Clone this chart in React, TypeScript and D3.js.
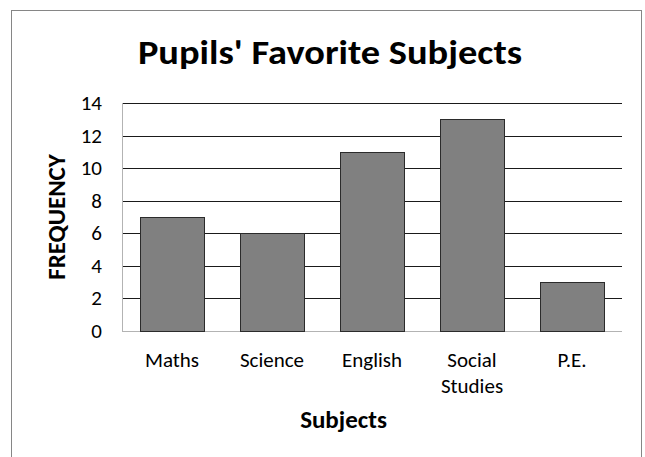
import React from "react";
import * as d3 from "d3";

const categories = ["Maths", "Science", "English", "Social Studies", "P.E."];
const categoryLines = [["Maths"], ["Science"], ["English"], ["Social", "Studies"], ["P.E."]];
const frequencies = [7, 6, 11, 13, 3];
const yTicks = [0, 2, 4, 6, 8, 10, 12, 14];
const titleText = "Pupils' Favorite Subjects";
const xTitle = "Subjects";
const yTitle = "FREQUENCY";

const W = 645;
const H = 457;
const plot = { left: 122, right: 622, top: 103, bottom: 331 };
const FONT = "Carlito, Calibri, Lato, 'Open Sans', sans-serif";

export default function App() {
  const x = d3
    .scaleBand<string>()
    .domain(categories)
    .range([plot.left, plot.right])
    .paddingInner(0.36)
    .paddingOuter(0.18);
  const y = d3.scaleLinear().domain([0, 14]).range([plot.bottom, plot.top]);
  const crisp = (v: number) => Math.round(v) + 0.5;

  return (
    <svg
      width={W}
      height={H}
      style={{ position: "absolute", left: 0, top: 0, background: "#fff" }}
      fontFamily={FONT}
    >
      <rect x={11.5} y={10.5} width={630} height={460} fill="#fff" stroke="#868686" strokeWidth={1} />
      <text
        transform="translate(330, 64) scale(1.13, 1)"
        textAnchor="middle"
        fontSize={34}
        fontWeight="bold"
        fill="#000"
      >
        {titleText}
      </text>
      {yTicks
        .filter((t) => t > 0)
        .map((t) => (
          <line
            key={"g" + t}
            x1={plot.left}
            x2={plot.right}
            y1={crisp(y(t))}
            y2={crisp(y(t))}
            stroke="#1a1a1a"
            strokeWidth={1}
          />
        ))}
      <line x1={crisp(plot.left)} x2={crisp(plot.left)} y1={plot.top} y2={plot.bottom} stroke="#b3b3b3" />
      <line x1={plot.left} x2={plot.right} y1={crisp(y(0))} y2={crisp(y(0))} stroke="#b3b3b3" />
      {categories.map((c, i) => (
        <rect
          key={c}
          x={Math.round(x(c)!) + 0.5}
          y={Math.round(y(frequencies[i])) + 0.5}
          width={Math.round(x.bandwidth())}
          height={Math.round(y(0)) - Math.round(y(frequencies[i]))}
          fill="#808080"
          stroke="#2b2b2b"
          strokeWidth={1}
        />
      ))}
      {yTicks.map((t) => (
        <text key={"t" + t} x={102} y={y(t)} dy="0.33em" textAnchor="end" fontSize={21} fill="#000">
          {t}
        </text>
      ))}
      {categories.map((c, i) => (
        <text key={"c" + c} x={x(c)! + x.bandwidth() / 2} y={367} textAnchor="middle" fontSize={21} fill="#000">
          {categoryLines[i].map((ln, j) => (
            <tspan key={j} x={x(c)! + x.bandwidth() / 2} dy={j === 0 ? 0 : 26}>
              {ln}
            </tspan>
          ))}
        </text>
      ))}
      <text x={343.5} y={428} textAnchor="middle" fontSize={25} fontWeight="bold" fill="#000">
        {xTitle}
      </text>
      <text
        transform={`translate(65, ${(plot.top + plot.bottom) / 2}) rotate(-90)`}
        textAnchor="middle"
        fontSize={25}
        fontWeight="bold"
        fill="#000"
      >
        {yTitle}
      </text>
    </svg>
  );
}
